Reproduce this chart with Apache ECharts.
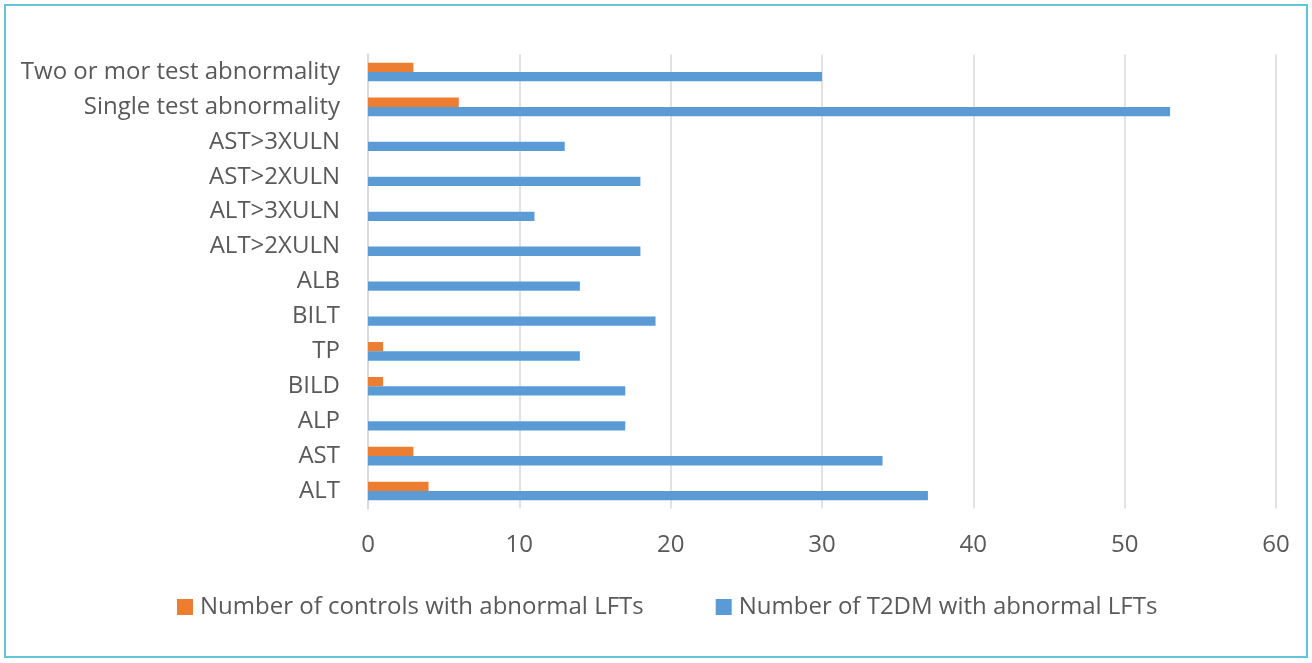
<!DOCTYPE html>
<html>
<head>
<meta charset="utf-8">
<script src="https://cdn.jsdelivr.net/npm/echarts@6/dist/echarts.min.js"></script>
<style>html,body{margin:0;padding:0;background:#fff}#chart{width:1312px;height:663px}</style>
</head>
<body>
<div id="chart"></div>
<script>
const categories = ['ALT','AST','ALP','BILD','TP','BILT','ALB','ALT>2XULN','ALT>3XULN','AST>2XULN','AST>3XULN','Single test abnormality','Two or mor test abnormality'];
const controls = [4,3,0,1,1,0,0,0,0,0,0,6,3];
const t2dm = [37,34,17,17,14,19,14,18,11,18,13,53,30];
const seriesNames = ['Number of controls with abnormal LFTs','Number of T2DM with abnormal LFTs'];
const xTicks = {min:0,max:60,interval:10};

const chart = echarts.init(document.getElementById('chart'), null, {renderer:'canvas'});
const font = '"Open Sans", sans-serif';
chart.setOption({
  animation:false,
  backgroundColor:'#fff',
  graphic:[{type:'rect',shape:{x:5,y:5,width:1302,height:652},style:{fill:'none',stroke:'#63c3d9',lineWidth:2},z:100}],
  grid:{left:368,right:36,top:54.5,bottom:154.5,containLabel:false},
  legend:{
    top:595,left:177,padding:0,itemWidth:16,itemHeight:16,itemGap:72,icon:'rect',
    textStyle:{color:'#595959',fontSize:24,fontFamily:font,padding:[0,0,0,2]},
    data:seriesNames
  },
  xAxis:{type:'value',min:xTicks.min,max:xTicks.max,interval:xTicks.interval,
    axisLine:{show:false},axisTick:{show:false},
    axisLabel:{color:'#595959',fontSize:24,fontFamily:font,margin:25},
    splitLine:{lineStyle:{color:'#d9d9d9',width:1.5}}},
  yAxis:{type:'category',data:categories,
    axisLine:{lineStyle:{color:'#d9d9d9',width:2}},axisTick:{show:false},
    axisLabel:{color:'#595959',fontSize:24,fontFamily:font,margin:28}},
  series:[
    {name:seriesNames[0],type:'bar',data:controls,itemStyle:{color:'#ED7D31'},barWidth:9.3,barGap:'0%'},
    {name:seriesNames[1],type:'bar',data:t2dm,itemStyle:{color:'#5B9BD5'},barWidth:9.3,barGap:'0%'}
  ]
});
</script>
</body>
</html>
